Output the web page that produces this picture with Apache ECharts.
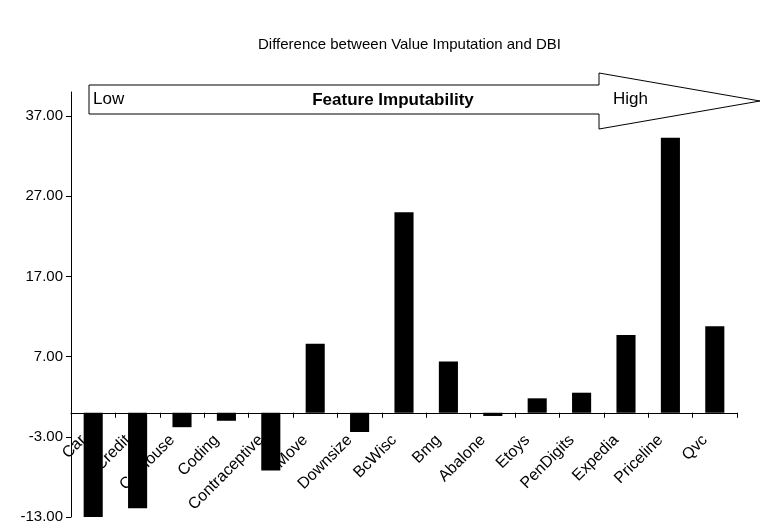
<!DOCTYPE html>
<html>
<head>
<meta charset="utf-8">
<script src="https://cdn.jsdelivr.net/npm/echarts@6/dist/echarts.min.js"></script>
<style>html,body{margin:0;padding:0;background:#fff;}#c{width:762px;height:525px;}</style>
</head>
<body>
<div id="c"></div>
<script>
var categories = ['Car','Credit','CalHouse','Coding','Contraceptive','Move','Downsize','BcWisc','Bmg','Abalone','Etoys','PenDigits','Expedia','Priceline','Qvc'];
var values = [-13.0, -11.9, -1.8, -1.0, -7.2, 8.6, -2.4, 25.0, 6.4, -0.4, 1.8, 2.5, 9.7, 34.3, 10.8];
var yTicks = [-13, -3, 7, 17, 27, 37];
var titleText = 'Difference between Value Imputation and DBI';
var arrowTexts = ['Low', 'Feature Imputability', 'High'];

var FF = '"Liberation Sans", Arial, sans-serif';
var GRID_BOTTOM = 8, H = 525;
var chart = echarts.init(document.getElementById('c'), null, {renderer: 'canvas'});
chart.setOption({
  animation: false,
  backgroundColor: '#fff',
  title: {
    text: titleText, left: 253, top: 32,
    textStyle: {fontFamily: FF, fontSize: 15, fontWeight: 'normal', color: '#000'}
  },
  grid: {left: 71, right: 25, top: 92, bottom: GRID_BOTTOM, containLabel: false, outerBoundsMode: 'none'},
  xAxis: {
    type: 'category', data: categories, position: 'bottom',
    axisLine: {onZero: false, lineStyle: {color: '#000', width: 1}},
    axisTick: {show: true, interval: 0, length: 5, lineStyle: {color: '#000'}},
    axisLabel: {interval: 0, rotate: 45, margin: 15, padding: [0, 14, 0, 0],
      fontFamily: FF, fontSize: 16, color: '#000', hideOverlap: false},
    splitLine: {show: false}
  },
  yAxis: {
    type: 'value', min: -13, max: 40,
    axisLine: {show: true, lineStyle: {color: '#000', width: 1}},
    axisTick: {show: true, length: 5, customValues: yTicks, lineStyle: {color: '#000'}},
    axisLabel: {customValues: yTicks, margin: 8, fontFamily: FF, fontSize: 15, color: '#000',
      formatter: function (v) { return v.toFixed(2); }},
    splitLine: {show: false}
  },
  series: [{
    type: 'bar', data: values, barWidth: '43%', z: 5,
    itemStyle: {color: '#000'}
  }],
  graphic: [
    {type: 'polygon', z: 10,
     shape: {points: [[89,85],[599,85],[599,73],[760,101],[599,129],[599,114],[89,114]]},
     style: {fill: '#fff', stroke: '#000', lineWidth: 1}},
    {type: 'text', z: 11, left: 93, top: 91,
     style: {text: arrowTexts[0], font: '17px ' + FF, fill: '#000'}},
    {type: 'text', z: 11, x: 393, y: 100,
     style: {text: arrowTexts[1], font: 'bold 17px ' + FF, fill: '#000', textAlign: 'center', textVerticalAlign: 'middle'}},
    {type: 'text', z: 11, left: 613, top: 91,
     style: {text: arrowTexts[2], font: '17px ' + FF, fill: '#000'}}
  ]
});
// move the category axis up to the zero line using the value axis scale
var zeroY = chart.convertToPixel({yAxisIndex: 0}, 0);
var bottomY = H - GRID_BOTTOM;
chart.setOption({xAxis: {offset: -(bottomY - zeroY)}});
</script>
</body>
</html>
